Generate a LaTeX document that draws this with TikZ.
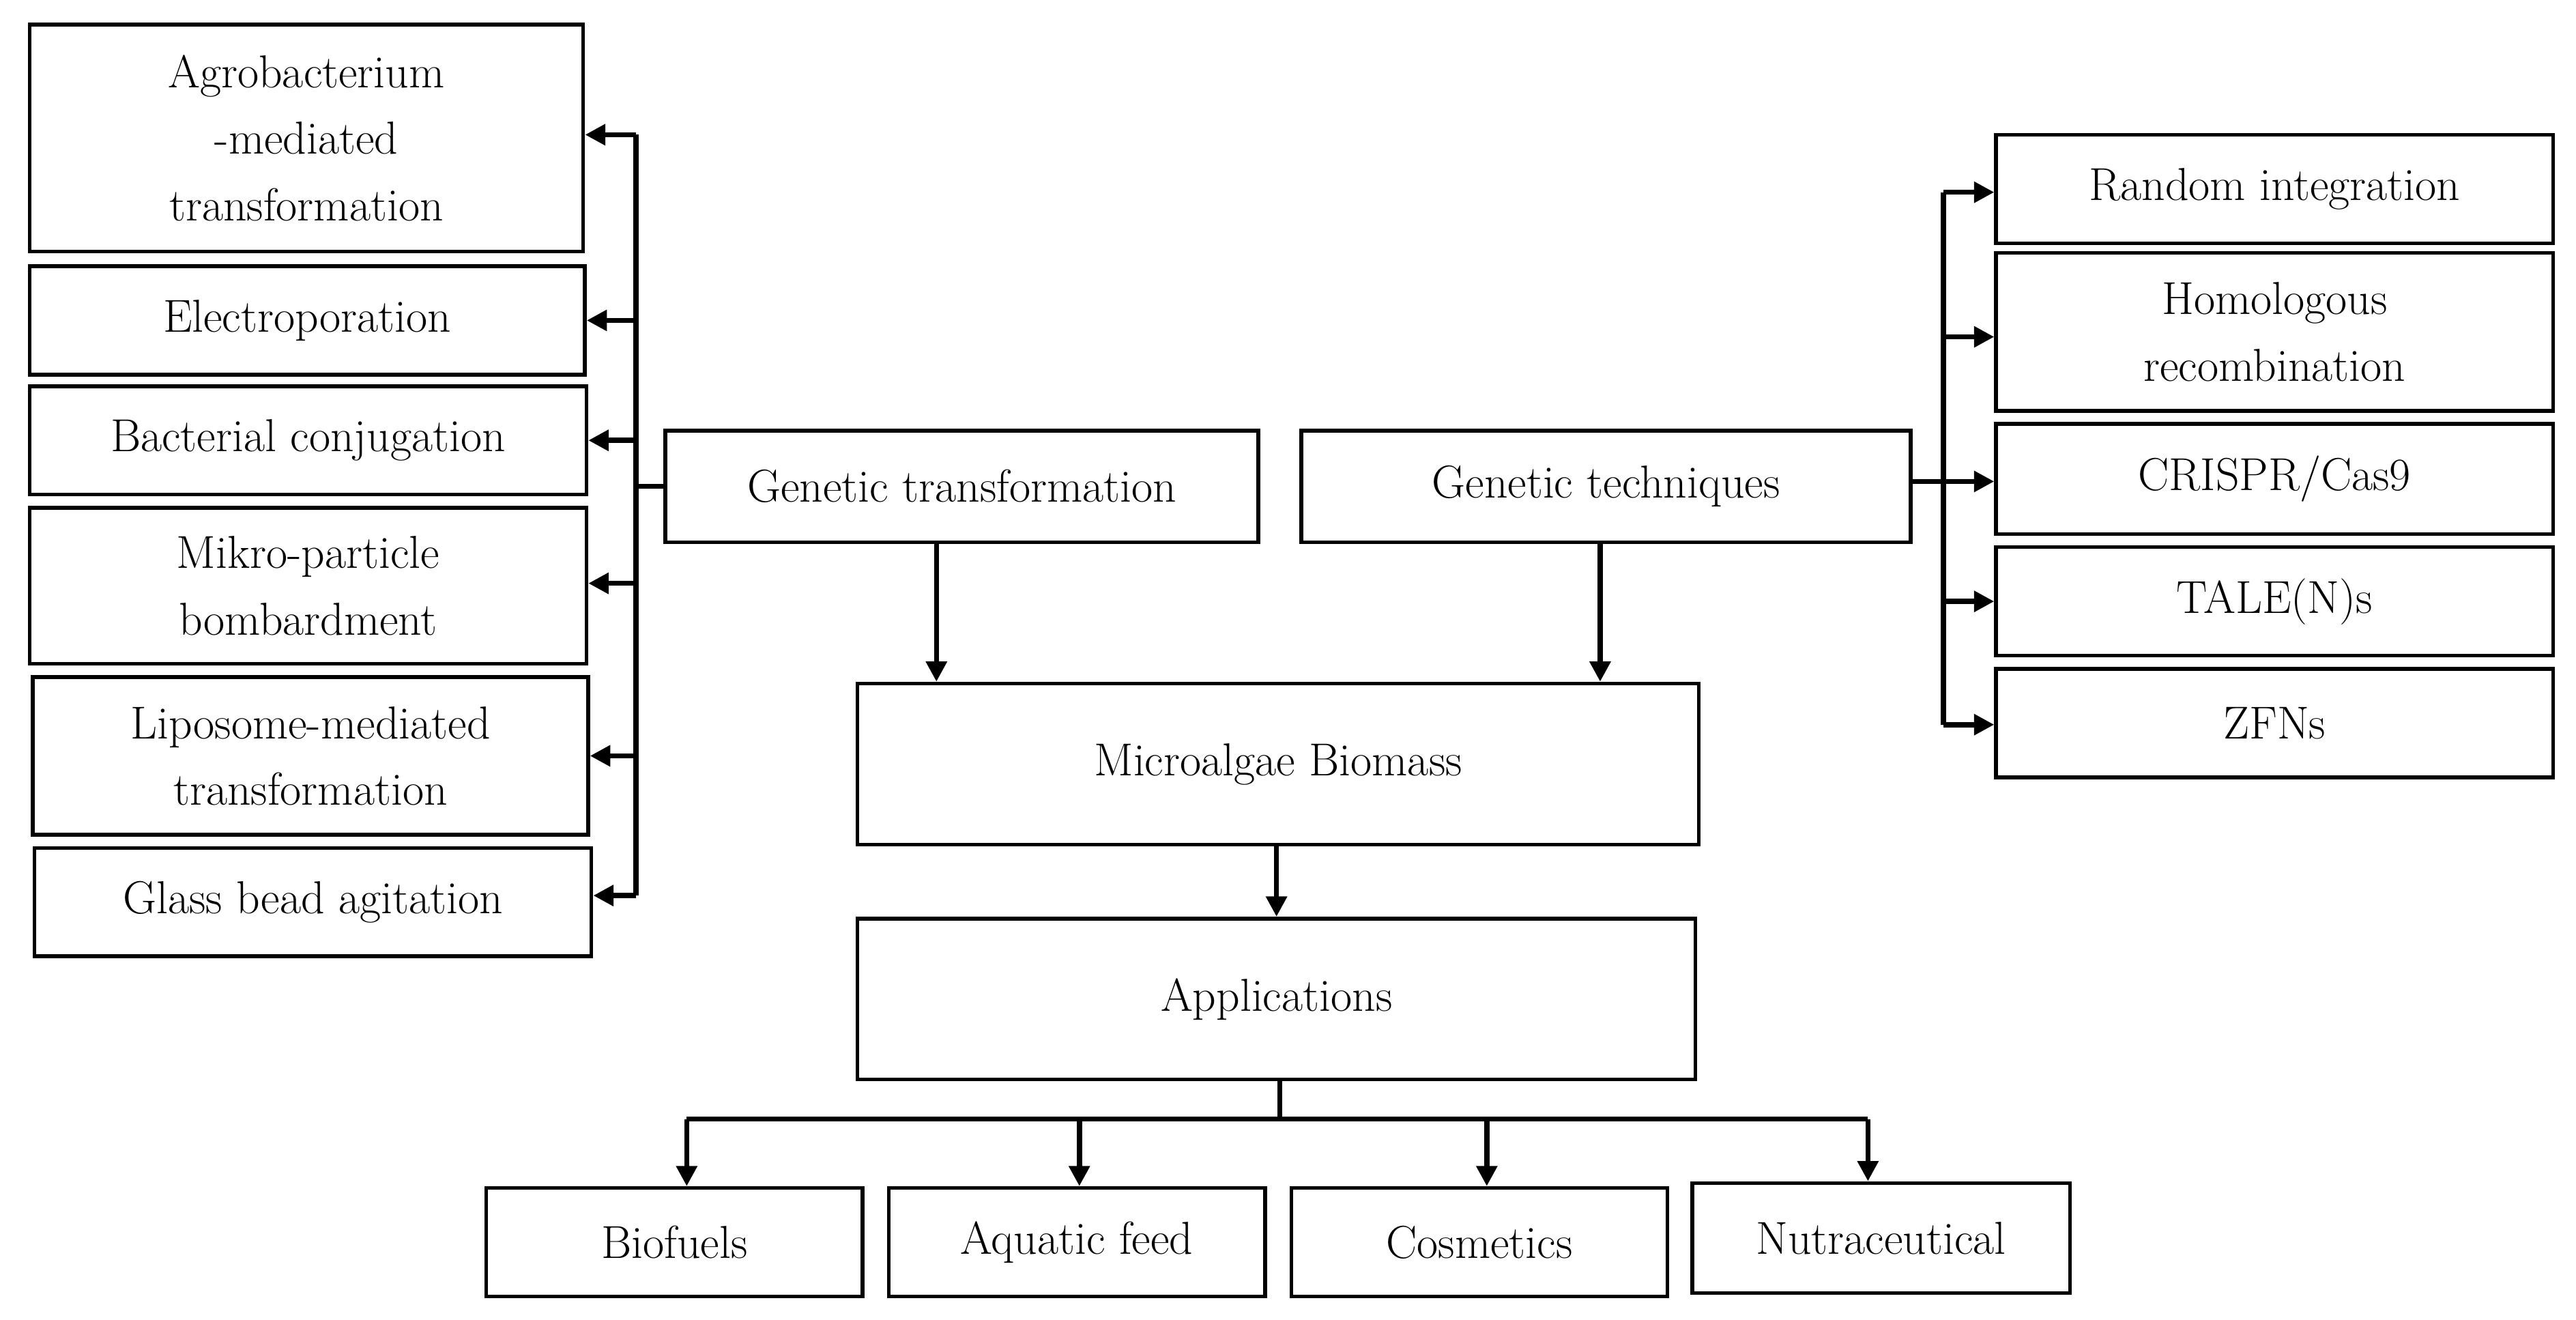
\documentclass[tikz,border=0pt]{standalone}
\usetikzlibrary{arrows.meta}
\begin{document}
\begin{tikzpicture}[x=0.02cm,y=-0.02cm,
  box/.style={draw,line width=1.3pt,align=center,inner sep=2pt,font=\fontsize{16}{23}\selectfont},
  wh/.style 2 args={minimum width=#1*0.02cm,minimum height=#2*0.02cm},
  ln/.style={line width=1.8pt},
  arr/.style={ln,-{Triangle[length=7pt,width=7pt]}}]
\useasboundingbox (0,0) rectangle (1568,803);
% left
\node[box,wh={337}{138}] (agro) at (186.5,84) {Agrobacterium\\-mediated\\transformation};
\node[box,wh={338}{66}] (elec) at (187,195) {Electroporation};
\node[box,wh={339}{66}] (bact) at (187.5,268) {Bacterial conjugation};
\node[box,wh={339}{95}] (mikro) at (187.5,356.5) {Mikro-particle\\bombardment};
\node[box,wh={338}{96}] (lipo) at (189,460) {Liposome-mediated\\transformation};
\node[box,wh={339}{66}] (glass) at (190.5,549) {Glass bead agitation};
% center
\node[box,wh={361}{68}] (gt) at (585.5,296) {Genetic transformation};
\node[box,wh={371}{68}] (gtech) at (977.5,296) {Genetic techniques};
\node[box,wh={512}{98}] (micro) at (778,465) {Microalgae Biomass};
\node[box,wh={510}{98}] (app) at (777,608) {Applications};
% right
\node[box,wh={339}{66}] (rand) at (1384.5,115) {Random integration};
\node[box,wh={339}{96}] (homo) at (1384.5,202) {Homologous\\recombination};
\node[box,wh={339}{67}] (cris) at (1384.5,291.5) {CRISPR/Cas9};
\node[box,wh={339}{66}] (tale) at (1384.5,366) {TALE(N)s};
\node[box,wh={339}{66}] (zfn) at (1384.5,440) {ZFNs};
% bottom
\node[box,wh={229}{66}] (bio) at (410.5,756) {Biofuels};
\node[box,wh={229}{66}] (aqua) at (655.5,756) {Aquatic feed};
\node[box,wh={229}{66}] (cos) at (900.5,756) {Cosmetics};
\node[box,wh={230}{67}] (nutra) at (1145,753.5) {Nutraceutical};
% left bus
\coordinate (lt) at (387,82); \coordinate (lb) at (387,545);
\draw[ln] (lt) -- (lb);
\draw[ln] (gt.west) -- (gt.west -| lt);
\foreach \n/\y in {agro/82,elec/195,bact/268,mikro/355,lipo/460,glass/545}
  \draw[arr] (387,\y) -- (\n.east |- 0,\y);
% right bus
\coordinate (rt) at (1183,117); \coordinate (rb) at (1183,441);
\draw[ln] (rt) -- (rb);
\draw[ln] (gtech.east |- 0,293) -- (1183,293);
\foreach \n/\y in {rand/117,homo/205,cris/293,tale/366,zfn/441}
  \draw[arr] (1183,\y) -- (\n.west |- 0,\y);
% center arrows
\draw[arr] (gt.south -| 570,0) -- (micro.north -| 570,0);
\draw[arr] (gtech.south -| 974,0) -- (micro.north -| 974,0);
\draw[arr] (micro.south -| 777,0) -- (app.north -| 777,0);
% bottom bus
\coordinate (bj) at (779,681);
\draw[ln] (app.south -| bj) -- (bj);
\draw[ln] (418,681) -- (1137,681);
\foreach \n/\x in {bio/418,aqua/657,cos/905,nutra/1137}
  \draw[arr] (\x,681) -- (\n.north -| \x,0);
\end{tikzpicture}
\end{document}
